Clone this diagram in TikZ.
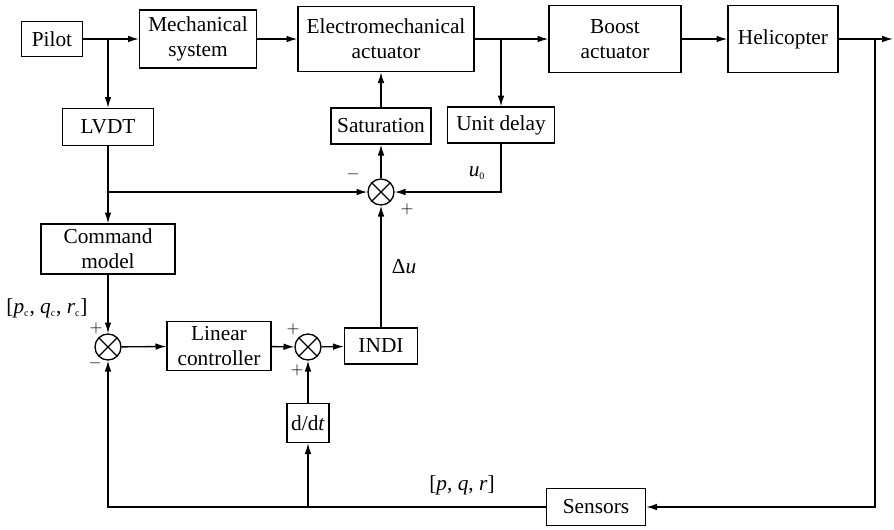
\documentclass[tikz,border=0pt]{standalone}
\usepackage{fontspec}
\setmainfont{Liberation Serif}
\usetikzlibrary{arrows.meta}

\begin{document}
\begin{tikzpicture}[x=0.6pt, y=-0.6pt, line width=0.8pt,
  every node/.style={font=\rmfamily\fontsize{12.8}{15}\selectfont},
  blk/.style={draw, align=center, inner sep=1pt},
  sgn/.style={font=\rmfamily\fontsize{10}{12}\selectfont, inner sep=1pt},
  sumnode/.style={draw, circle, minimum size=15.6pt, inner sep=0pt,
    path picture={\draw (path picture bounding box.north west) -- (path picture bounding box.south east)
      (path picture bounding box.north east) -- (path picture bounding box.south west);}},
  >={Latex[length=6.5pt, width=4pt]}]
\def\u{0.6pt}
\def\sub#1{\textsubscript{\fontsize{6}{7}\selectfont #1}}
\useasboundingbox (0,0) rectangle (894,529);

% top row
\node (pilot) [blk, minimum width=61*\u, minimum height=35*\u] at (52,39) {Pilot};
\node (mech) [blk, minimum width=117*\u, minimum height=58*\u] at (198,39) {Mechanical\\system};
\node (ema) [blk, minimum width=176*\u, minimum height=65*\u] at (386,39) {Electromechanical\\actuator};
\node (boost) [blk, minimum width=132*\u, minimum height=67*\u] at (615,39) {Boost\\actuator};
\node (heli) [blk, minimum width=110*\u, minimum height=67*\u] at (783,39) {Helicopter};
\coordinate (out) at (893,39);
\coordinate (fb) at (875,39);

% middle
\node (lvdt) [blk, minimum width=91*\u, minimum height=37*\u] at (108,127) {LVDT};
\node (sat) [blk, minimum width=100*\u, minimum height=36*\u] at (381,126) {Saturation};
\node (delay) [blk, minimum width=107*\u, minimum height=36*\u] at (501,125) {Unit delay};
\node (s3) [sumnode] at (381,192) {};
\node (cmd) [blk, minimum width=134*\u, minimum height=50*\u] at (108,249) {Command\\model};

% lower loop
\node (s1) [sumnode] at (108,347) {};
\node (lin) [blk, minimum width=104*\u, minimum height=49*\u] at (219,346) {Linear\\controller};
\node (s2) [sumnode] at (308,347) {};
\node (indi) [blk, minimum width=73*\u, minimum height=36*\u] at (381,346) {INDI};
\node (ddt) [blk, minimum width=42*\u, minimum height=39*\u] at (308,423) {d/d\textit{t}};
\node (sens) [blk, minimum width=99*\u, minimum height=37*\u] at (596,507) {Sensors};

% connectors
\draw [->] (pilot) -- (mech);
\draw [->] (lvdt.north |- pilot.east) -- (lvdt);
\draw [->] (mech) -- (ema);
\draw [->] (ema) -- (boost);
\draw [->] (ema.east -| delay.north) -- (delay);
\draw [->] (boost) -- (heli);
\draw [->] (heli) -- (out);
\draw [->] (fb) |- (sens);
\draw [->] (lvdt) -- (cmd);
\draw [->] (lvdt.south |- s3) -- (s3);
\draw [->] (delay.south) |- (s3);
\draw [->] (s3) -- (sat);
\draw [->] (sat) -- (sat |- ema.south);
\draw [->] (cmd) -- (s1);
\draw [->] (s1) -- (lin);
\draw [->] (lin) -- (s2);
\draw [->] (s2) -- (indi);
\draw [->] (indi) -- (s3);
\draw [->] (sens) -| (s1);
\draw [->] (ddt.south |- sens.west) -- (ddt);
\draw [->] (ddt) -- (s2);

% labels
\node (ms3) [sgn] at (353,174) {$-$};
\node (ps3) [sgn] at (407,209) {$+$};
\node (u0) at (477,173) {\textit{u}\sub{0}};
\node (du) at (404,267) {Δ\textit{u}};
\node (ref) at (47,308) {[\textit{p}\sub{c}, \textit{q}\sub{c}, \textit{r}\sub{c}]};
\node (ps1) [sgn] at (96,328) {$+$};
\node (ms1) [sgn] at (95,363) {$-$};
\node (ps2a) [sgn] at (293,329) {$+$};
\node (ps2b) [sgn] at (297,370) {$+$};
\node (meas) at (462,485) {[\textit{p}, \textit{q}, \textit{r}]};
\end{tikzpicture}
\end{document}
